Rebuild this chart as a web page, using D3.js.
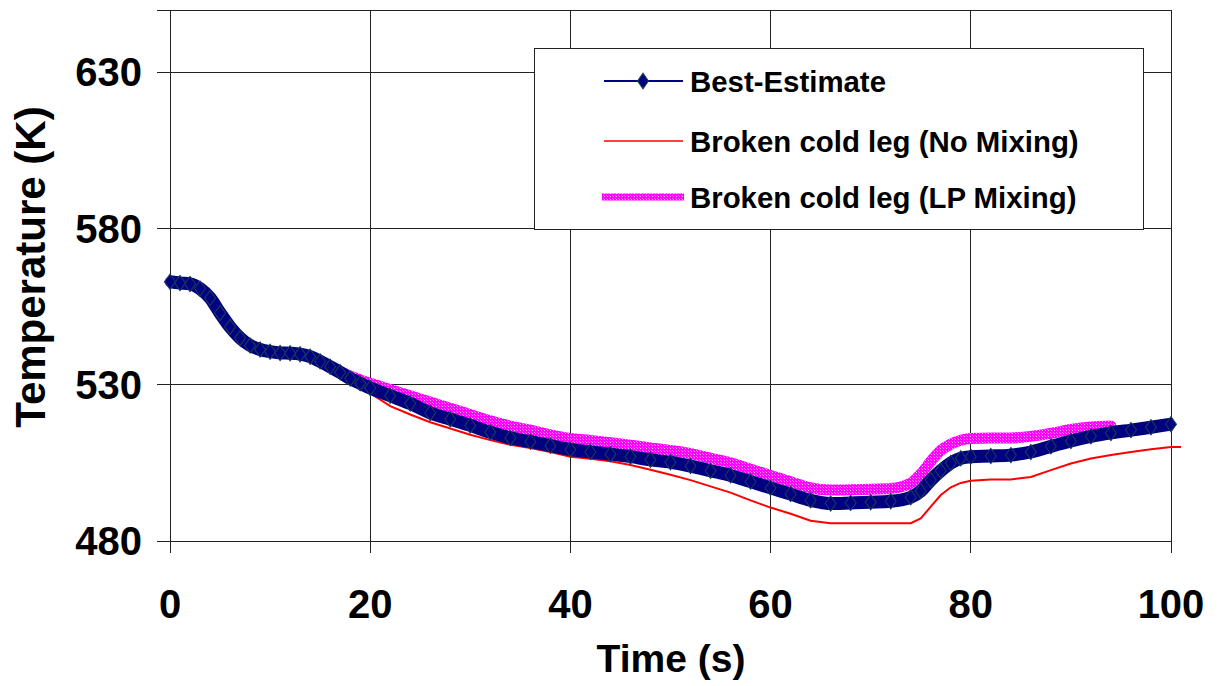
<!DOCTYPE html>
<html>
<head>
<meta charset="utf-8">
<script src="https://cdn.jsdelivr.net/npm/d3@7"></script>
<style>
  html, body { margin: 0; padding: 0; background: #fff; }
  svg { display: block; font-family: "Liberation Sans", Arial, sans-serif; font-weight: bold; }
</style>
</head>
<body>
<svg id="chart" width="1218" height="686"></svg>
<script>
// Time axis (s) and temperature series (K)
const timeBE = [0,1,2,3,4,5,6,7,8,9,10,11,12,13,14,15,16,17,18,19,20,22,24,26,28,30,32,34,36,38,40,42,44,46,48,50,52,54,56,58,60,62,64,66,68,70,72,74,75,76,77,78,79,80,82,84,86,88,90,92,94,96,98,100];
const bestEstimate = [563,562.6,562.3,560.8,557.8,553,548.5,545,542.6,541.3,540.6,540.2,540.1,539.8,539,537.5,535.8,534,532,530.5,529,526.5,524,521,519,517,514.8,513,511.8,510.5,509.3,508.5,507.8,507,506,505.2,504,502.5,501,499,497,495,493,492,492.2,492.4,492.7,494,496,499.5,502.5,505,506.5,507,507.2,507.5,508.5,510.3,512,513.5,514.6,515.5,516.4,517.4];

const timeNM = [0,2,4,6,8,10,12,14,16,18,20,22,24,26,28,30,32,34,36,38,40,42,44,46,48,50,52,54,56,58,60,62,64,66,74,75,76,77,78,79,80,82,84,86,88,90,92,94,96,98,100,101];
const noMixing = [563,562.3,557.8,548.5,542.6,540.6,540.1,539,535.8,531.3,527.3,523.2,520.5,518,516,514,512.3,510.8,509.8,508.5,507,506.3,505.5,504.3,502.8,501.2,499.5,497.5,495.5,493,490.7,488.7,486.5,485.7,485.7,487.2,491,494.7,497.2,498.6,499.3,499.7,499.7,500.5,502.7,504.8,506.4,507.5,508.5,509.4,510.1,510.1];

const timeLP = [0,2,4,6,8,10,12,14,16,17,18,19,20,22,24,26,28,30,32,34,36,38,40,42,44,46,48,50,52,54,56,58,60,62,64,66,68,70,72,74,75,76,77,78,80,82,84,86,88,90,92,94];
const lpMixing = [563,562.3,557.8,548.5,542.6,540.6,540.1,539,535.8,534.3,532.8,531.6,530.5,528.5,526.5,524.5,522.5,520.5,518.5,516.8,515.5,514,512.8,512.2,511.5,510.7,509.8,509,508,506.5,505,503,501,499,497,496.3,496.4,496.6,496.8,498.5,501.5,505.5,509,511,512.8,513,513,513.5,514.5,515.7,516.5,516.8];

const xTicks = [0,20,40,60,80,100];
const yTicks = [480,530,580,630];
const legendLabels = ["Best-Estimate","Broken cold leg (No Mixing)","Broken cold leg (LP Mixing)"];

const svg = d3.select("#chart");

const x = d3.scaleLinear().domain([0,100]).range([170,1171]);
const y = d3.scaleLinear().domain([480,650]).range([541,10]);

// Stippled magenta texture for the LP Mixing line
const defs = svg.append("defs");
const pat = defs.append("pattern").attr("id","lpPat").attr("patternUnits","userSpaceOnUse")
  .attr("width",3).attr("height",3);
pat.append("rect").attr("width",3).attr("height",3).attr("fill","#ff00ff");
pat.append("rect").attr("x",1).attr("y",1).attr("width",1).attr("height",1).attr("fill","#ffb0ff");
pat.append("rect").attr("x",0).attr("y",0).attr("width",1).attr("height",1).attr("fill","#ff66ff");

// Grid
const grid = svg.append("g").attr("stroke","#222").attr("stroke-width",1).attr("shape-rendering","crispEdges");
xTicks.forEach(t => grid.append("line").attr("x1",x(t)).attr("x2",x(t)).attr("y1",y(650)).attr("y2",y(480)+12));
yTicks.concat([650]).forEach(v => grid.append("line").attr("y1",y(v)).attr("y2",y(v)).attr("x1",x(0)-13).attr("x2",x(100)));
grid.append("rect").attr("x",x(0)).attr("y",y(650)).attr("width",x(100)-x(0)).attr("height",y(480)-y(650)).attr("fill","none");

// Axis labels
const tickFont = 40;
svg.append("g").selectAll("text").data(xTicks).join("text")
  .attr("x",d=>x(d)).attr("y",618).attr("text-anchor","middle")
  .attr("font-size",tickFont).text(d=>d);
svg.append("g").selectAll("text").data(yTicks).join("text")
  .attr("x",142).attr("y",d=>y(d)+14).attr("text-anchor","end")
  .attr("font-size",tickFont).text(d=>d);

svg.append("text").attr("x",671).attr("y",672).attr("text-anchor","middle")
  .attr("font-size",39).text("Time (s)");
svg.append("text").attr("transform","translate(45,267) rotate(-90)").attr("text-anchor","middle")
  .attr("font-size",42).text("Temperature (K)");

// Series
const lineSmooth = (ts, vs) => d3.line().curve(d3.curveMonotoneX).x((d,i)=>x(ts[i])).y(d=>y(d))(vs);
const lineLin = (ts, vs) => d3.line().x((d,i)=>x(ts[i])).y(d=>y(d))(vs);

svg.append("path").attr("d",lineSmooth(timeLP,lpMixing)).attr("fill","none")
  .attr("stroke","url(#lpPat)").attr("stroke-width",11).attr("stroke-linejoin","round").attr("stroke-linecap","round");

svg.append("path").attr("d",lineLin(timeNM,noMixing)).attr("fill","none")
  .attr("stroke","#ff0000").attr("stroke-width",2);

svg.append("path").attr("d",lineSmooth(timeBE,bestEstimate)).attr("fill","none")
  .attr("stroke","#000080").attr("stroke-width",13).attr("stroke-linejoin","round");

const diamond = d3.symbol().type(d3.symbolDiamond).size(66);
svg.append("g").selectAll("path").data(bestEstimate).join("path")
  .attr("d",diamond)
  .attr("transform",(d,i)=>`translate(${x(timeBE[i])},${y(d)}) scale(1.25,1)`)
  .attr("fill","#000080").attr("stroke","#163f52").attr("stroke-width",0.9);

// Legend
const lg = svg.append("g");
lg.append("rect").attr("x",534.5).attr("y",48.5).attr("width",609).attr("height",181)
  .attr("fill","#fff").attr("stroke","#222").attr("stroke-width",1);
const rowsY = [81,141,197];
lg.append("line").attr("x1",604).attr("x2",683).attr("y1",rowsY[0]).attr("y2",rowsY[0])
  .attr("stroke","#000080").attr("stroke-width",2);
lg.append("path").attr("d",d3.symbol().type(d3.symbolDiamond).size(70)())
  .attr("transform",`translate(643,${rowsY[0]}) scale(1.2,1)`).attr("fill","#000080").attr("stroke","#163f52");
lg.append("line").attr("x1",604).attr("x2",683).attr("y1",rowsY[1]).attr("y2",rowsY[1])
  .attr("stroke","#ff0000").attr("stroke-width",1.5);
lg.append("line").attr("x1",602).attr("x2",684).attr("y1",rowsY[2]).attr("y2",rowsY[2])
  .attr("stroke","url(#lpPat)").attr("stroke-width",7);
lg.selectAll("text").data(legendLabels).join("text")
  .attr("x",690).attr("y",(d,i)=>rowsY[i]+10.5).attr("font-size",29.4).text(d=>d);
</script>
</body>
</html>
